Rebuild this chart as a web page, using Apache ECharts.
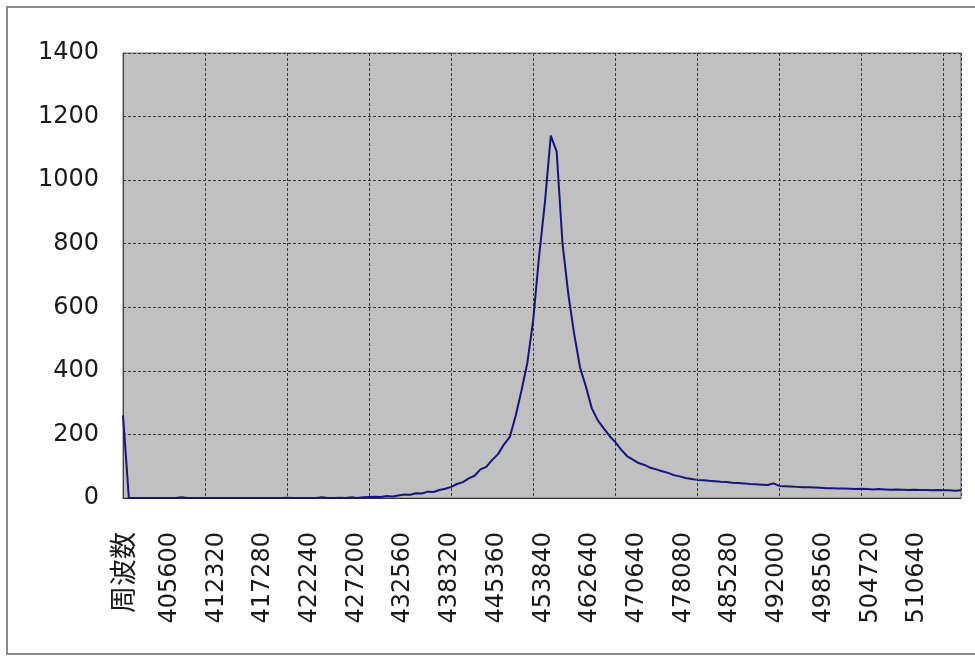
<!DOCTYPE html>
<html>
<head>
<meta charset="utf-8">
<script src="https://cdn.jsdelivr.net/npm/echarts@6/dist/echarts.min.js"></script>
<style>
html,body{margin:0;padding:0;background:#fff;}
#chart{width:975px;height:657px;}
</style>
</head>
<body>
<div id="chart"></div>
<script>
// Category tick labels (first one is the header cell that Excel picked up)
var tickLabels = ['周波数','405600','412320','417280','422240','427200','432560','438320',
  '445360','453840','462640','470640','478080','485280','492000','498560','504720','510640'];

// Sample values (counts), one per sample
var counts = [
  260,0,0,0,0,0,0,0,0,0,
  2,0,0,0,0,0,0,0,0,0,
  0,0,0,0,0,0,0,0,1,0,
  0,0,0,0,2,0,0,1,0,2,
  0,2,3,4,3,6,5,8,11,10,
  15,14,20,19,25,29,35,44,50,62,
  70,90,98,120,138,168,192,258,338,425,
  560,760,930,1140,1090,800,640,515,410,350,
  282,245,220,196,176,152,132,121,110,104,
  95,90,84,79,72,68,63,60,57,56,
  54,53,51,50,48,47,46,44,43,42,
  41,46,38,37,36,35,34,34,33,32,
  31,31,30,30,29,28,29,28,27,28,
  27,26,27,26,25,26,25,25,24,25,
  24,24,23,24
];

// Axis settings
var yTicks = [0, 200, 400, 600, 800, 1000, 1200, 1400];
var LABEL_STEP = 7.97;   // samples per tick label
var GRID_STEP = 14;      // samples per vertical gridline

var lastIdx = counts.length - 1;
var seriesData = counts.map(function (v, i) { return [i, v]; });

var chart = echarts.init(document.getElementById('chart'), null, {renderer: 'canvas'});
var gridLine = {color: '#3a3a3a', width: 1, type: [3, 2]};

chart.setOption({
  backgroundColor: '#ffffff',
  animation: false,
  graphic: [{
    type: 'rect',
    shape: {x: 7, y: 7, width: 1000, height: 647},
    style: {fill: 'none', stroke: '#8a8a8a', lineWidth: 2},
    silent: true
  }],
  grid: {
    left: 123, top: 53, right: 14, bottom: 159,
    show: true, backgroundColor: '#c0c0c0', borderColor: '#666', borderWidth: 1
  },
  xAxis: [{
    type: 'value', min: 0, max: lastIdx, interval: LABEL_STEP,
    axisLine: {show: true, onZero: false, lineStyle: {color: '#333', width: 1}},
    axisTick: {show: false},
    splitLine: {show: false},
    axisLabel: {
      rotate: 90, margin: 34, color: '#1a1a1a',
      fontFamily: 'DejaVu Sans', fontSize: 24,
      showMinLabel: true, showMaxLabel: true,
      formatter: function (v) {
        var k = Math.round(v / LABEL_STEP);
        if (Math.abs(v - k * LABEL_STEP) > 0.05 || k < 0 || k >= tickLabels.length) return '';
        var t = tickLabels[k];
        return isNaN(Number(t)) ? '{cjk|' + t + '}' : t;
      },
      rich: {
        cjk: {fontFamily: 'Noto Sans CJK JP', fontSize: 27, color: '#1a1a1a'}
      }
    }
  }, {
    type: 'value', min: 0, max: lastIdx, interval: GRID_STEP,
    axisLine: {show: false},
    axisTick: {show: false},
    axisLabel: {show: false},
    splitLine: {show: true, lineStyle: gridLine}
  }],
  yAxis: {
    type: 'value', min: yTicks[0], max: yTicks[yTicks.length - 1],
    interval: yTicks[1] - yTicks[0],
    axisLine: {show: true, lineStyle: {color: '#444', width: 1}},
    axisTick: {show: false},
    axisLabel: {
      color: '#1a1a1a', fontFamily: 'DejaVu Sans', fontSize: 24, margin: 24,
      formatter: function (v) { return String(v); }
    },
    splitLine: {show: true, lineStyle: gridLine}
  },
  series: [{
    type: 'line',
    xAxisIndex: 0,
    data: seriesData,
    showSymbol: false,
    symbol: 'none',
    lineStyle: {color: '#15157f', width: 2},
    z: 5
  }]
});
</script>
</body>
</html>
